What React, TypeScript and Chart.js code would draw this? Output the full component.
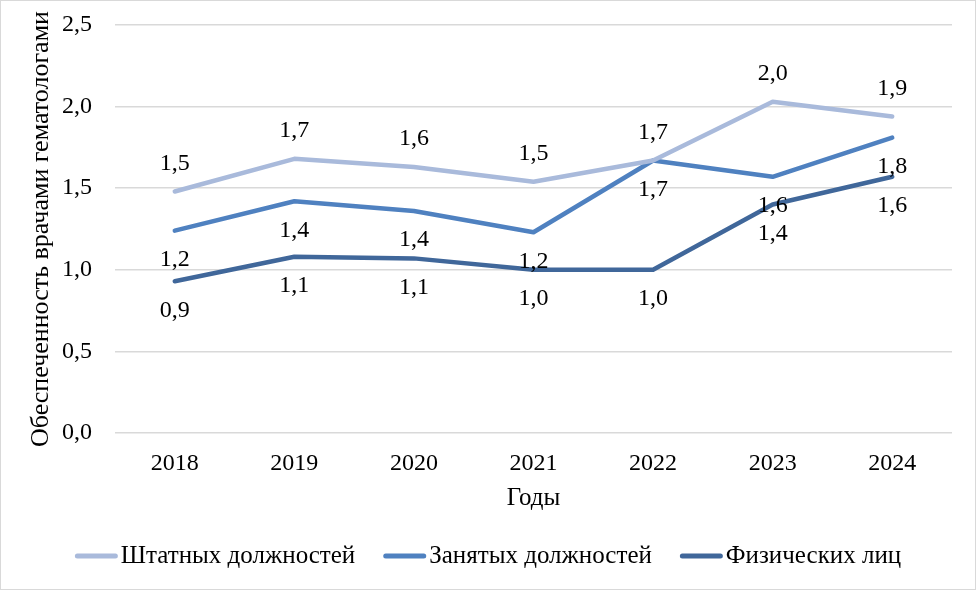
import React, { useEffect, useRef } from 'react';
import { Chart, registerables } from 'chart.js';

Chart.register(...registerables);

const categories = ['2018', '2019', '2020', '2021', '2022', '2023', '2024'];
const shtatnye = [1.48, 1.68, 1.63, 1.54, 1.67, 2.03, 1.94];
const zanyatye = [1.24, 1.42, 1.36, 1.23, 1.67, 1.57, 1.81];
const fizicheskie = [0.93, 1.08, 1.07, 1.0, 1.0, 1.4, 1.57];

const seriesNames = ['Штатных должностей', 'Занятых должностей', 'Физических лиц'];
const seriesColors = ['#A9BADB', '#4F81C0', '#40679A'];
const labelSides = ['above', 'below', 'below'];

const yTitle = 'Обеспеченность врачами гематологами';
const xTitle = 'Годы';

const FONT = '"Liberation Serif", "Times New Roman", serif';
const TICK_SIZE = 24;
const X_TITLE_SIZE = 25;
const Y_TITLE_SIZE = 26;
const LEGEND_SIZE = 25;

const fmt = (v: number) => v.toFixed(1).replace('.', ',');

export default function App() {
  const ref = useRef<HTMLCanvasElement>(null);

  useEffect(() => {
    document.body.style.margin = '0';
    const canvas = ref.current;
    if (!canvas) return;

    const valueLabels = {
      id: 'valueLabels',
      afterDatasetsDraw(chart: any) {
        const ctx = chart.ctx;
        ctx.save();
        ctx.font = `${TICK_SIZE}px ${FONT}`;
        ctx.fillStyle = '#000';
        ctx.textAlign = 'center';
        ctx.textBaseline = 'middle';
        chart.data.datasets.forEach((ds: any, i: number) => {
          const meta = chart.getDatasetMeta(i);
          meta.data.forEach((pt: any, j: number) => {
            const dy = labelSides[i] === 'above' ? -28 : 29;
            ctx.fillText(fmt(ds.data[j]), pt.x, pt.y + dy);
          });
        });
        ctx.restore();
      },
    };

    const customLegend = {
      id: 'customLegend',
      afterDraw(chart: any) {
        const ctx = chart.ctx;
        ctx.save();
        ctx.font = `${LEGEND_SIZE}px ${FONT}`;
        const lineLen = 43;
        const gapText = 3;
        const gapItem = 28;
        const widths = seriesNames.map((n) => ctx.measureText(n).width);
        const total =
          widths.reduce((a, b) => a + b, 0) + seriesNames.length * (lineLen + gapText) + gapItem * (seriesNames.length - 1);
        let x = chart.width / 2 - total / 2;
        const y = 555;
        seriesNames.forEach((name, i) => {
          ctx.strokeStyle = seriesColors[i];
          ctx.lineWidth = 5;
          ctx.lineCap = 'round';
          ctx.beginPath();
          ctx.moveTo(x + 2.5, y);
          ctx.lineTo(x + lineLen - 2.5, y);
          ctx.stroke();
          x += lineLen + gapText;
          ctx.fillStyle = '#000';
          ctx.textAlign = 'left';
          ctx.textBaseline = 'middle';
          ctx.fillText(name, x, y);
          x += widths[i] + gapItem;
        });
        ctx.restore();
      },
    };

    const dataSeries = [shtatnye, zanyatye, fizicheskie];

    const chart = new Chart(canvas, {
      type: 'line',
      data: {
        labels: categories,
        datasets: dataSeries.map((d, i) => ({
          label: seriesNames[i],
          data: d,
          borderColor: seriesColors[i],
          backgroundColor: seriesColors[i],
          borderWidth: 4.5,
          borderCapStyle: 'round',
          borderJoinStyle: 'round',
          pointRadius: 0,
          fill: false,
          tension: 0,
        })),
      },
      options: {
        responsive: false,
        animation: false,
        layout: { padding: { top: 24, right: 23, bottom: 0, left: 0 } },
        font: { family: FONT, size: TICK_SIZE },
        plugins: {
          legend: { display: false },
          tooltip: { enabled: false },
        },
        scales: {
          x: {
            offset: true,
            grid: { display: false, drawTicks: false },
            border: { display: false },
            ticks: { color: '#000', font: { family: FONT, size: TICK_SIZE }, padding: 16 },
            title: {
              display: true,
              text: xTitle,
              color: '#000',
              font: { family: FONT, size: X_TITLE_SIZE },
              padding: { top: 0, bottom: 76 },
            },
            afterFit: (s: any) => {
              s.height = 156;
              s.paddingLeft = 0;
              s.paddingRight = 0;
            },
          },
          y: {
            min: 0,
            max: 2.5,
            grid: { color: '#D9D9D9', lineWidth: 1.5, drawTicks: false },
            border: { display: false },
            ticks: {
              stepSize: 0.5,
              color: '#000',
              font: { family: FONT, size: TICK_SIZE },
              padding: 23,
              callback: (v: any) => fmt(Number(v)),
            },
            title: {
              display: true,
              text: yTitle,
              color: '#000',
              font: { family: FONT, size: Y_TITLE_SIZE },
              padding: { top: 25, bottom: 0 },
            },
            afterFit: (s: any) => {
              s.width = 114;
              s.paddingTop = 0;
              s.paddingBottom = 0;
            },
          },
        },
      } as any,
      plugins: [valueLabels, customLegend],
    });

    return () => chart.destroy();
  }, []);

  return (
    <div
      style={{
        position: 'absolute',
        left: 0,
        top: 0,
        width: 976,
        height: 590,
        boxSizing: 'border-box',
        border: '1px solid #D9D9D9',
        background: '#fff',
      }}
    >
      <canvas ref={ref} width={974} height={588} style={{ width: 974, height: 588, display: 'block' }} />
    </div>
  );
}
